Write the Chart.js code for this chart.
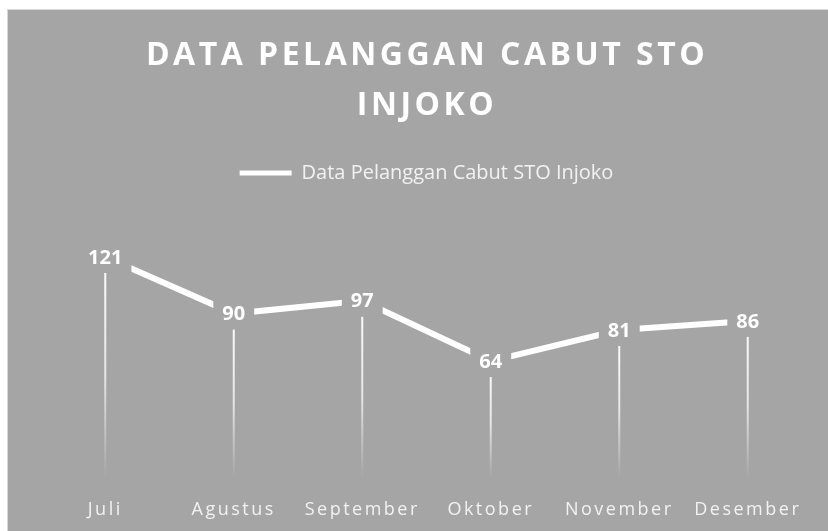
<!DOCTYPE html>
<html>
<head>
<meta charset="utf-8">
<script src="https://cdn.jsdelivr.net/npm/chart.js@4.4.1/dist/chart.umd.min.js"></script>
<style>
  html, body { margin: 0; padding: 0; background: #fff; }
  #wrap { width: 828px; height: 531px; position: relative; }
</style>
</head>
<body>
<div id="wrap"><canvas id="chart" width="828" height="531"></canvas></div>
<script>
// data
var months = ["Juli", "Agustus", "September", "Oktober", "November", "Desember"];
var cabut = [121, 90, 97, 64, 81, 86];
var seriesName = "Data Pelanggan Cabut STO Injoko";
var titleLines = ["DATA PELANGGAN CABUT STO", "INJOKO"];

var bg = '#a5a5a5';
var font = "'Open Sans', 'DejaVu Sans', sans-serif";

// gray panel + title
var panel = {
	id: 'panel',
	beforeDraw: function(chart) {
		var ctx = chart.ctx;
		ctx.save();
		ctx.fillStyle = '#fff';
		ctx.fillRect(0, 0, chart.width, chart.height);
		ctx.fillStyle = bg;
		ctx.fillRect(7, 9, chart.width - 7, chart.height - 9);
		ctx.strokeStyle = '#d9d9d9';
		ctx.lineWidth = 1;
		ctx.strokeRect(7.5, 9.5, chart.width, chart.height);

		ctx.fillStyle = '#fff';
		ctx.font = 'bold 32px ' + font;
		ctx.letterSpacing = '3.5px';
		ctx.textAlign = 'center';
		ctx.textBaseline = 'middle';
		ctx.fillText(titleLines[0], 427, 56);
		ctx.fillText(titleLines[1], 427, 106);
		ctx.restore();
	}
};

// drop lines from each point to the bottom of the plot
var dropLines = {
	id: 'dropLines',
	beforeDatasetsDraw: function(chart) {
		var ctx = chart.ctx;
		var meta = chart.getDatasetMeta(0);
		var bottom = chart.scales.y.getPixelForValue(0);
		ctx.save();
		meta.data.forEach(function(pt) {
			var g = ctx.createLinearGradient(0, pt.y, 0, bottom);
			g.addColorStop(0, 'rgba(255,255,255,1)');
			g.addColorStop(0.55, 'rgba(255,255,255,0.7)');
			g.addColorStop(1, 'rgba(255,255,255,0)');
			ctx.strokeStyle = g;
			ctx.lineWidth = 2;
			ctx.beginPath();
			ctx.moveTo(pt.x, pt.y);
			ctx.lineTo(pt.x, bottom);
			ctx.stroke();
		});
		ctx.restore();
	}
};

// value labels with a background box sitting over the line
var valueLabels = {
	id: 'valueLabels',
	afterDatasetsDraw: function(chart) {
		var ctx = chart.ctx;
		var meta = chart.getDatasetMeta(0);
		ctx.save();
		ctx.font = 'bold 20px ' + font;
		ctx.textAlign = 'center';
		ctx.textBaseline = 'middle';
		meta.data.forEach(function(pt, i) {
			var txt = String(cabut[i]);
			var w = ctx.measureText(txt).width + 18;
			ctx.fillStyle = bg;
			ctx.fillRect(pt.x - w / 2, pt.y - 16, w, 32);
			ctx.fillStyle = '#fff';
			ctx.fillText(txt, pt.x, pt.y + 1);
		});
		ctx.restore();
	}
};

// spaced-out category labels
var spacedTicks = {
	id: 'spacedTicks',
	afterLayout: function(chart) {
		var sc = chart.scales.x;
		if (sc._spaced) return;
		var orig = sc.drawLabels;
		sc.drawLabels = function(area) {
			chart.ctx.save();
			chart.ctx.letterSpacing = '2.5px';
			orig.call(this, area);
			chart.ctx.restore();
		};
		sc._spaced = true;
	}
};

var ctx = document.getElementById('chart');
var myChart = new Chart(ctx, {
	type: 'line',
	data: {
		labels: months,
		datasets: [{
			label: seriesName,
			data: cabut,
			borderColor: '#fff',
			backgroundColor: '#fff',
			borderWidth: 6,
			pointRadius: 0,
			tension: 0
		}]
	},
	options: {
		responsive: false,
		animation: false,
		layout: { padding: { left: 41, right: 16, top: 125, bottom: 0 } },
		plugins: {
			title: { display: false },
			tooltip: { enabled: false },
			legend: {
				position: 'top',
				labels: {
					color: '#f2f2f2',
					font: { family: font, size: 20 },
					boxWidth: 52,
					boxHeight: 5,
					padding: 38,
					generateLabels: function(chart) {
						return Chart.defaults.plugins.legend.labels.generateLabels(chart).map(function(l) {
							l.lineWidth = 0;
							l.strokeStyle = 'rgba(0,0,0,0)';
							l.fillStyle = '#fff';
							return l;
						});
					}
				}
			}
		},
		scales: {
			x: {
				offset: true,
				grid: { display: false, drawTicks: false },
				border: { display: false },
				afterFit: function(scale) { scale.height = 53; },
				ticks: {
					color: '#f2f2f2',
					font: { family: font, size: 18 },
					padding: 21,
					maxRotation: 0,
					autoSkip: false
				}
			},
			y: {
				display: false,
				min: 0,
				max: 156
			}
		}
	},
	plugins: [panel, dropLines, valueLabels, spacedTicks]
});
</script>
</body>
</html>
